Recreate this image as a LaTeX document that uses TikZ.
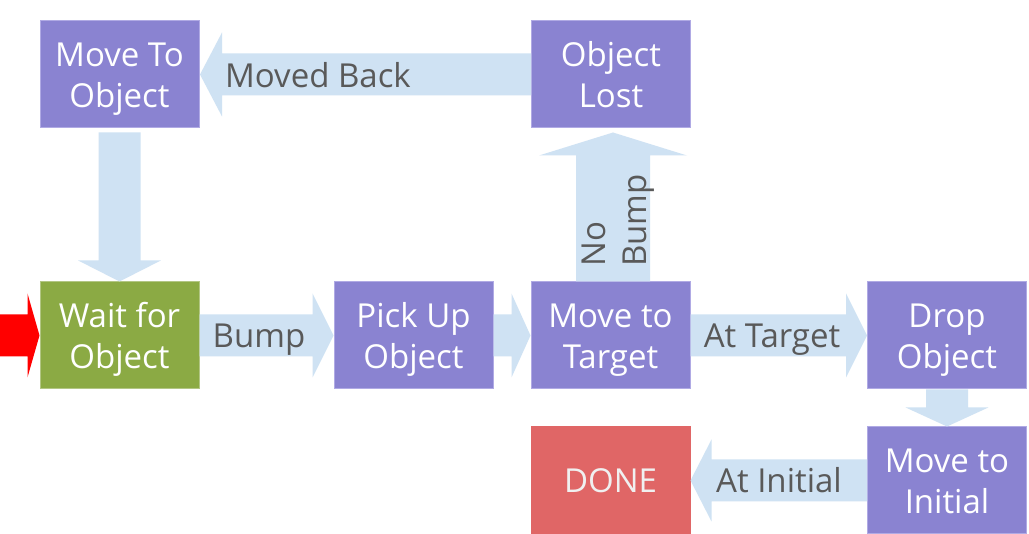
\documentclass[tikz,border=0pt]{standalone}
\usepackage{fontspec}
\setmainfont{Open Sans}
\usetikzlibrary{calc}
\definecolor{boxpurple}{RGB}{138,131,209}
\definecolor{boxpurpleedge}{RGB}{176,170,228}
\definecolor{boxgreen}{RGB}{139,170,68}
\definecolor{boxgreenedge}{RGB}{178,198,132}
\definecolor{boxred}{RGB}{224,102,102}
\definecolor{arrowblue}{RGB}{207,226,243}
\definecolor{labelgray}{RGB}{89,89,89}
\newcommand\topstrut{\rule{0pt}{26.25pt}}
\newcommand\botstrut{\rule[-7.5pt]{0pt}{0pt}}
\newcommand\barrow[6]{%
  \fill[#1] let \p1=(#2), \p2=(#3),
    \n1={atan2(\y2-\y1,\x2-\x1)},
    \n2={veclen(\x2-\x1,\y2-\y1)},
    \n3={\n2-#6} in
    ($(\p1)+(\n1+90:#4)$) -- ($(\p1)+(\n1:\n3)+(\n1+90:#4)$)
    -- ($(\p1)+(\n1:\n3)+(\n1+90:#5)$) -- (\p2)
    -- ($(\p1)+(\n1:\n3)+(\n1-90:#5)$) -- ($(\p1)+(\n1:\n3)+(\n1-90:#4)$)
    -- ($(\p1)+(\n1-90:#4)$) -- cycle;}
\begin{document}
\begin{tikzpicture}[x=0.75pt,y=-0.75pt,
  every node/.style={font=\fontsize{24.75}{30.75}\selectfont},
  state/.style={rectangle, inner sep=0pt, minimum width=119.25pt, minimum height=80.25pt,
    fill=boxpurple, draw=boxpurpleedge, line width=0.75pt, text=white, align=center},
  startstate/.style={state, fill=boxgreen, draw=boxgreenedge},
  endstate/.style={state, fill=boxred, draw=boxred, text=white!94!black},
  lbl/.style={text=labelgray, inner sep=0pt, anchor=base}]
\useasboundingbox[fill=white] (0,0) rectangle (1029,534);
% states
\node[state] (mto) at (119.5,74.5) {\topstrut Move To\\Object\botstrut};
\node[state] (lost) at (611,74.5) {\topstrut Object\\Lost\botstrut};
\node[startstate] (wait) at (119.5,335.5) {\topstrut Wait for\\Object\botstrut};
\node[state] (pick) at (413.5,335.5) {\topstrut Pick Up\\Object\botstrut};
\node[state] (target) at (610.5,335.5) {\topstrut Move to\\Target\botstrut};
\node[state] (drop) at (947,335.5) {\topstrut Drop\\Object\botstrut};
\node[state] (init) at (947,480.5) {\topstrut Move to\\Initial\botstrut};
\node[endstate] (done) at (610.5,480.5) {\topstrut DONE\botstrut};
\coordinate (entry) at (0,335.5);
% block arrows
\barrow{red}{entry}{wait.west}{15.75pt}{31.5pt}{9pt}
\barrow{arrowblue}{wait.east}{pick.west}{15.75pt}{31.5pt}{15.75pt}
\barrow{arrowblue}{pick.east}{target.west}{15.75pt}{31.5pt}{14.25pt}
\barrow{arrowblue}{target.east}{drop.west}{15.75pt}{31.5pt}{15.75pt}
\barrow{arrowblue}{drop.south}{init.north}{15.75pt}{31pt}{14.25pt}
\barrow{arrowblue}{init.west}{done.east}{15.75pt}{30.75pt}{15.75pt}
\barrow{arrowblue}{$(target.north)+(2.5,0)$}{$(lost.south)+(2,4)$}{27.75pt}{55.5pt}{17.25pt}
\barrow{arrowblue}{lost.west}{$(mto.east)+(0.5,0)$}{15.75pt}{31.5pt}{16.5pt}
\barrow{arrowblue}{$(mto.south)+(0,4)$}{wait.north}{15.75pt}{31pt}{15.75pt}
% labels
\node[lbl] (lmoved) at (318,88) {Moved Back};
\node[lbl] (lbump) at (259,348) {Bump};
\node[lbl] (ltarget) at (772,348) {At Target};
\node[lbl] (linit) at (779,493) {At Initial};
\node[text=labelgray, inner sep=0pt, rotate=90, anchor=north west, align=left] (lnobump) at (581.5,267) {No\\Bump};
\end{tikzpicture}
\end{document}
